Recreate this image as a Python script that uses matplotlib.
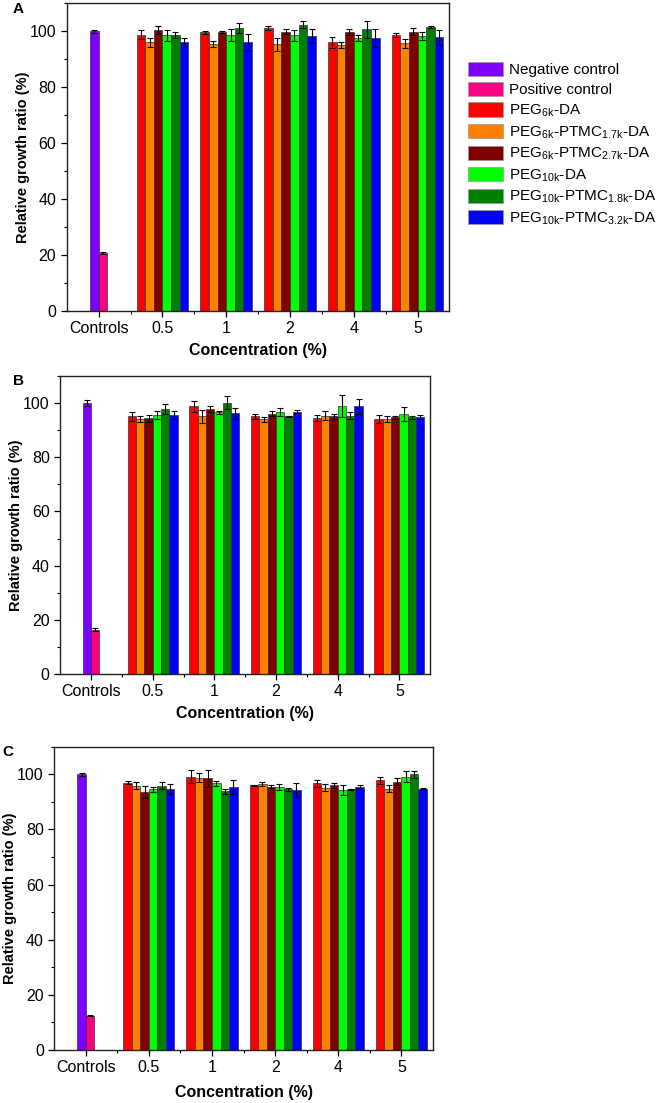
import numpy as np
import matplotlib
matplotlib.use('Agg')
import matplotlib.pyplot as plt
from matplotlib.ticker import MultipleLocator, FixedLocator

plt.rcParams['font.family'] = ['Liberation Sans', 'DejaVu Sans']
plt.rcParams['mathtext.fontset'] = 'custom'
plt.rcParams['mathtext.rm'] = 'Liberation Sans'
plt.rcParams['mathtext.it'] = 'Liberation Sans:italic'
plt.rcParams['mathtext.bf'] = 'Liberation Sans:bold'

# categorias del eje x
categorias = ['Controls', '0.5', '1', '2', '4', '5']

controles = ['Negative control', 'Positive control']
muestras = [r'PEG$_{\mathrm{6k}}$-DA',
            r'PEG$_{\mathrm{6k}}$-PTMC$_{\mathrm{1.7k}}$-DA',
            r'PEG$_{\mathrm{6k}}$-PTMC$_{\mathrm{2.7k}}$-DA',
            r'PEG$_{\mathrm{10k}}$-DA',
            r'PEG$_{\mathrm{10k}}$-PTMC$_{\mathrm{1.8k}}$-DA',
            r'PEG$_{\mathrm{10k}}$-PTMC$_{\mathrm{3.2k}}$-DA']

colores_control = ['#8000ff', '#ff0080']
colores = ['#ff0000', '#ff8000', '#800000', '#00ff00', '#008000', '#0000ff']

# Panel A  (controles: negativo, positivo)
ctrl_A = [100.0, 20.8]
ctrl_err_A = [0.5, 0.3]
# filas = muestras, columnas = concentraciones 0.5, 1, 2, 4, 5
val_A = [[98.8, 99.6, 101.2, 96.1, 98.8],
         [96.0, 95.5, 95.3, 95.1, 95.7],
         [100.5, 99.8, 99.8, 99.8, 99.8],
         [98.6, 98.7, 98.6, 97.6, 98.3],
         [98.6, 101.2, 102.3, 100.7, 101.5],
         [96.0, 96.0, 98.3, 97.6, 97.8]]
err_A = [[1.5, 0.5, 0.6, 2.0, 0.7],
         [1.5, 1.2, 2.3, 1.2, 1.5],
         [1.3, 0.4, 0.9, 1.1, 1.3],
         [2.0, 2.0, 2.0, 1.0, 1.5],
         [1.0, 1.8, 1.3, 3.0, 0.5],
         [1.5, 3.0, 2.5, 3.3, 2.7]]

# Panel B
ctrl_B = [100.0, 16.3]
ctrl_err_B = [1.0, 0.5]
val_B = [[95.1, 98.8, 95.1, 94.5, 94.1],
         [94.1, 95.1, 94.1, 95.4, 94.1],
         [94.5, 97.8, 96.1, 95.1, 94.8],
         [95.7, 96.6, 96.9, 99.0, 96.1],
         [97.8, 100.2, 95.1, 95.4, 94.8],
         [95.6, 96.3, 96.9, 98.8, 94.9]]
err_B = [[1.8, 2.0, 1.0, 1.1, 1.5],
         [1.2, 2.3, 0.9, 1.7, 1.0],
         [1.3, 1.2, 1.0, 0.8, 0.6],
         [1.5, 0.6, 1.5, 4.0, 2.5],
         [1.8, 2.3, 0.3, 1.3, 0.5],
         [1.5, 2.0, 0.7, 2.7, 0.6]]

# Panel C
ctrl_C = [100.0, 12.4]
ctrl_err_C = [0.6, 0.2]
val_C = [[97.0, 99.2, 96.0, 96.7, 97.9],
         [95.8, 98.8, 96.4, 95.2, 94.8],
         [93.6, 98.5, 95.5, 96.0, 97.3],
         [94.5, 96.7, 95.4, 94.3, 99.2],
         [95.8, 93.8, 94.5, 94.5, 100.0],
         [94.8, 95.4, 94.2, 95.5, 94.8]]
err_C = [[0.5, 2.3, 0.3, 1.3, 1.3],
         [1.3, 1.5, 0.8, 1.3, 1.3],
         [2.3, 3.0, 0.6, 0.8, 1.3],
         [1.0, 1.0, 1.2, 1.8, 2.0],
         [1.3, 0.8, 0.5, 0.3, 1.3],
         [1.8, 2.5, 2.6, 0.6, 0.3]]

ancho = 0.135
ekw = dict(ecolor='black', elinewidth=0.8, capsize=2.5, capthick=0.8)


def dibujar_panel(ax, ctrl, ctrl_err, val, err, pad_x=5):
    x = np.arange(len(categorias))
    for i in range(2):
        ax.bar(x[0] + (i - 0.5) * ancho, ctrl[i], ancho, yerr=ctrl_err[i],
               color=colores_control[i], edgecolor='#333333', linewidth=0.5,
               error_kw=ekw, label=controles[i])
    for i in range(len(muestras)):
        ax.bar(x[1:] + (i - 2.5) * ancho, val[i], ancho, yerr=err[i],
               color=colores[i], edgecolor='#333333', linewidth=0.5,
               error_kw=ekw, label=muestras[i])
    ax.set_xlim(-0.5, 5.5)
    ax.set_ylim(0, 110)
    ax.set_xticks(x)
    ax.set_xticklabels(categorias)
    ax.xaxis.set_minor_locator(FixedLocator(x[:-1] + 0.5))
    ax.yaxis.set_major_locator(MultipleLocator(20))
    ax.yaxis.set_minor_locator(MultipleLocator(10))
    ax.tick_params(axis='both', which='major', direction='out', length=4,
                   width=0.9, labelsize=11.5)
    ax.tick_params(axis='both', which='minor', direction='out', length=2.5,
                   width=0.8)
    for s in ax.spines.values():
        s.set_linewidth(1.0)
        s.set_color('#222222')
    ax.set_xlabel('Concentration (%)', fontsize=11.5, fontweight='bold',
                  labelpad=pad_x)
    ax.set_ylabel('Relative growth ratio (%)', fontsize=10.5,
                  fontweight='bold', labelpad=0)


fig = plt.figure(figsize=(6.61, 11.03), dpi=100)
axA = fig.add_axes([0.101, 0.718, 0.579, 0.279])
axB = fig.add_axes([0.091, 0.389, 0.560, 0.270])
axC = fig.add_axes([0.082, 0.048, 0.573, 0.275])

dibujar_panel(axA, ctrl_A, ctrl_err_A, val_A, err_A)
dibujar_panel(axB, ctrl_B, ctrl_err_B, val_B, err_B)
dibujar_panel(axC, ctrl_C, ctrl_err_C, val_C, err_C, pad_x=7)

fig.text(0.019, 0.998, 'A', fontsize=11, fontweight='bold', va='top')
fig.text(0.019, 0.661, 'B', fontsize=11, fontweight='bold', va='top')
fig.text(0.004, 0.325, 'C', fontsize=11, fontweight='bold', va='top')

h, l = axA.get_legend_handles_labels()
leg = fig.legend(h, l, loc='upper left', bbox_to_anchor=(468 / 661, 1 - 62 / 1103),
                 frameon=False, fontsize=11, borderpad=0, borderaxespad=0,
                 handlelength=2.3, handleheight=1.05, handletextpad=0.4,
                 labelspacing=0.32)
for p in leg.get_patches():
    p.set_edgecolor('#999999')

fig.savefig('out.png', dpi=100)
